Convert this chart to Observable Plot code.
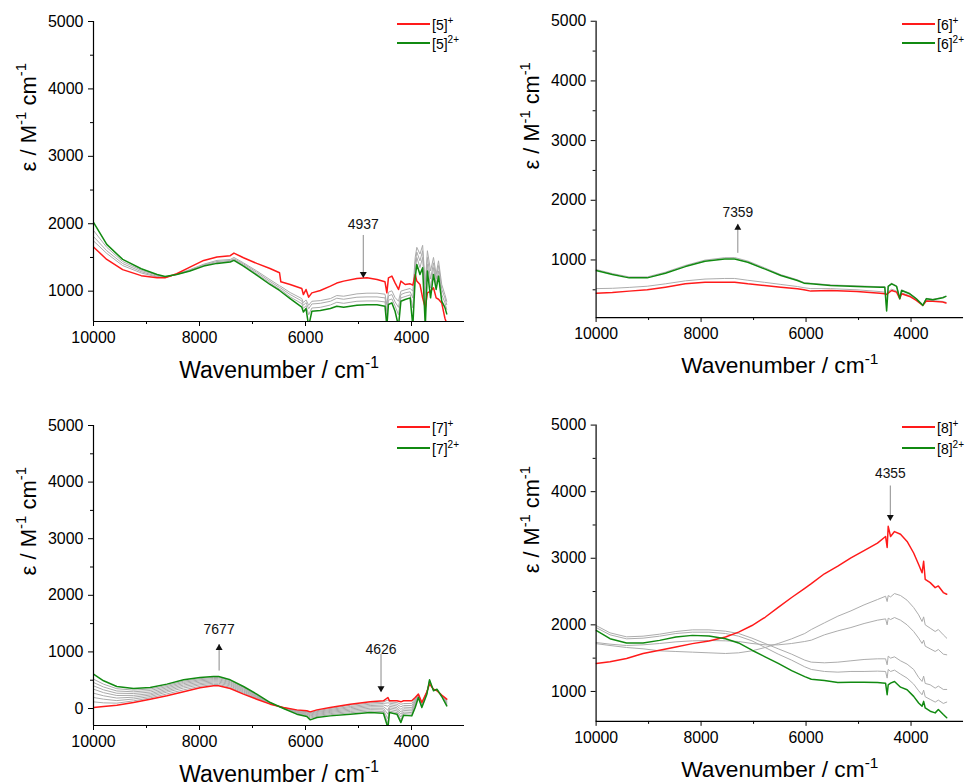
<!DOCTYPE html>
<html><head><meta charset="utf-8">
<script src="https://cdn.jsdelivr.net/npm/d3@7"></script>
<script src="https://cdn.jsdelivr.net/npm/@observablehq/plot@0.6"></script>
<style>
body{margin:0;background:#fff;font-family:Arial,"Liberation Sans",sans-serif;}
#wrap{position:relative;width:966px;height:784px;overflow:hidden;background:#fff;}
.panel{position:absolute;}
.legend{position:absolute;font-size:14px;color:#000;}
.legend .row{position:relative;white-space:nowrap;}
.legend .sw{position:absolute;left:0;width:33px;height:2px;}
.legend .lab{position:absolute;left:35px;line-height:14px;}
.legend sup{font-size:10px;vertical-align:6px;line-height:0;}
</style></head><body><div id="wrap"></div>
<script>
// ---------- Panel [5] ----------
const wn5 = [10000,9750,9450,9100,8800,8650,8430,8180,7920,7670,7420,7350,7170,6920,6670,6490,6465,6290,6070,6040,5990,5940,5880,5720,5530,5410,5280,5030,4840,4650,4500,4465,4435,4370,4310,4245,4200,4120,4025,3975,3930,3900,3840,3790,3740,3700,3640,3585,3535,3490,3430,3370,3335];
const red5 = [1655,1470,1320,1230,1198,1198,1258,1357,1456,1506,1526,1565,1496,1412,1337,1273,1139,1099,1040,950,1025,911,975,1010,1074,1120,1149,1188,1198,1174,1139,975,1198,1223,1124,1025,1149,1099,1109,1090,1248,1150,1099,900,752,975,1000,1050,901,880,826,600,520];
const green5 = [2020,1694,1471,1332,1248,1218,1248,1298,1372,1412,1432,1456,1372,1238,1099,1010,995,890,762,692,742,480,702,712,742,777,762,792,800,800,777,480,802,826,702,480,851,876,901,480,1200,1397,1248,1347,480,1298,901,1248,1025,1223,851,760,663];
const gray5a = [1745,1560,1380,1270,1210,1200,1252,1320,1400,1456,1470,1500,1420,1300,1170,1080,1070,980,890,830,870,790,850,860,890,935,925,960,970,970,955,800,985,1005,905,850,1000,1020,1040,1000,1500,1650,1550,1680,1100,1600,1300,1500,1250,1450,1100,950,850];
const gray5b = [1810,1600,1410,1290,1220,1205,1248,1310,1390,1440,1455,1480,1405,1280,1145,1055,1045,950,855,790,830,740,810,820,850,895,880,910,915,915,900,700,930,950,840,760,950,975,990,900,1420,1580,1450,1600,950,1500,1180,1420,1180,1380,1030,900,800];
const gray5c = [1900,1650,1440,1310,1235,1210,1246,1303,1380,1425,1442,1468,1388,1258,1120,1030,1020,915,815,745,785,650,750,760,795,835,820,850,855,855,840,600,865,885,780,650,900,920,945,750,1300,1500,1350,1500,800,1400,1050,1350,1100,1300,950,830,730];
const notes5 = [{label:"4937", x:4910, text:1985, from:1826, to:1203}];

// ---------- Panel [6] ----------
const wn6 = [10000,9690,9370,9025,8680,8300,7925,7550,7360,7110,6790,6480,6165,6040,5910,5535,5030,4590,4500,4465,4435,4370,4275,4215,4180,4025,3900,3775,3710,3585,3395,3335];
const red6 = [444,456,478,500,544,600,628,628,628,600,572,544,517,500,478,489,472,444,433,422,444,489,461,350,433,389,322,239,311,306,294,278];
const green6 = [822,756,700,700,778,889,978,1017,1017,961,850,739,656,611,600,572,556,544,544,144,556,600,556,350,489,433,350,239,350,333,367,389];
const gray6a = [520,525,540,560,600,650,680,690,690,660,625,590,555,535,520,520,500,470,460,440,470,510,480,370,450,400,335,250,325,320,305,290];
const gray6b = [840,772,716,716,795,908,998,1038,1040,982,868,754,668,622,610,582,566,552,552,200,566,610,566,370,500,442,358,250,358,340,374,395];
const notes6 = [{label:"7359", x:7300, text:1789, from:1111, to:1596}];

// ---------- Panel [7] ----------
const wn7 = [10000,9810,9560,9245,8930,8615,8300,7990,7735,7640,7420,7170,6920,6665,6415,6165,5975,5910,5785,5535,5155,4780,4530,4445,4415,4275,4200,4150,3995,3930,3870,3805,3710,3660,3585,3520,3430,3335];
const red7 = [18,35,59,106,165,224,295,366,401,401,354,254,165,77,18,-24,-41,-59,-24,18,77,118,136,195,136,136,118,136,136,195,254,106,295,431,342,313,236,165];
const green7 = [608,490,389,354,372,431,507,549,566,566,507,389,254,106,0,-100,-142,-200,-159,-130,-100,-71,-83,-340,-71,-100,-248,-118,-130,18,195,18,254,507,313,342,212,47];
const gray7a = [519,430,350,325,345,410,483,528,548,547,490,372,244,102,2,-90,-125,-170,-140,-110,-75,-45,-55,-260,-45,-72,-200,-90,-100,40,205,30,262,500,318,338,215,65];
const gray7b = [460,380,310,295,318,388,462,508,530,528,472,358,233,98,5,-80,-112,-150,-122,-90,-52,-20,-25,-180,-15,-42,-150,-62,-72,62,212,42,268,490,322,334,218,80];
const gray7c = [401,330,270,265,290,365,440,488,510,508,455,342,222,95,7,-70,-98,-130,-105,-70,-30,5,5,-100,12,-12,-100,-32,-42,85,220,55,274,482,326,330,221,95];
const gray7d = [342,280,230,232,262,340,415,465,490,488,436,325,211,91,9,-60,-85,-115,-88,-52,-8,30,32,-30,40,15,-60,-5,-12,108,228,65,280,470,330,326,224,110];
const gray7e = [271,225,185,200,238,315,390,440,470,468,418,308,200,88,11,-50,-72,-100,-70,-35,15,52,62,40,68,45,-15,25,18,130,235,78,285,460,334,322,228,125];
const gray7f = [195,165,140,168,212,290,362,418,448,446,398,290,188,84,14,-40,-60,-85,-55,-18,35,76,90,100,95,75,30,55,52,152,242,88,290,450,337,318,231,140];
const gray7g = [118,100,95,135,188,258,330,392,425,423,376,272,176,80,16,-32,-50,-72,-40,0,58,98,115,150,118,105,75,88,90,175,248,98,293,440,340,315,234,155];
const notes7 = [{label:"7677", x:7630, text:1396, from:661, to:1131},
                {label:"4626", x:4575, text:1043, from:955, to:295}];

// ---------- Panel [8] ----------
const wn8 = [10000,9735,9420,9105,8790,8480,8165,7850,7535,7285,7030,6780,6530,6275,6025,5900,5650,5395,5145,4895,4640,4485,4455,4435,4390,4315,4200,4075,3950,3855,3790,3760,3730,3635,3540,3480,3385,3320];
const red8 = [1421,1446,1495,1569,1619,1668,1718,1757,1817,1891,1990,2114,2262,2411,2549,2619,2767,2881,3005,3114,3228,3327,3163,3480,3327,3401,3361,3252,3079,2906,2782,2955,2683,2634,2559,2584,2485,2460];
const green8 = [1916,1792,1728,1728,1767,1817,1842,1832,1792,1728,1619,1520,1421,1312,1223,1183,1163,1134,1139,1139,1134,1124,950,1099,1124,1149,1064,1025,926,827,777,851,752,703,678,728,653,604];
const gray8a = [1718,1690,1660,1640,1610,1600,1590,1580,1570,1580,1610,1660,1720,1790,1870,1930,2030,2130,2210,2300,2380,2430,2350,2440,2420,2470,2440,2370,2260,2150,2050,2120,2000,1950,1900,1930,1850,1800];
const gray8b = [1735,1710,1690,1700,1720,1745,1760,1765,1760,1750,1720,1700,1700,1720,1750,1770,1850,1910,1960,2020,2070,2090,2000,2100,2080,2110,2070,2000,1900,1800,1720,1770,1680,1640,1600,1630,1560,1550];
const gray8c = [1990,1880,1820,1830,1860,1900,1925,1925,1905,1870,1800,1720,1640,1560,1470,1440,1430,1440,1460,1480,1490,1490,1400,1530,1500,1520,1460,1410,1330,1210,1150,1230,1120,1100,1050,1080,1030,1030];
const gray8d = [1960,1850,1790,1800,1830,1870,1890,1890,1870,1830,1760,1660,1560,1470,1370,1330,1300,1290,1300,1300,1305,1300,1200,1330,1300,1320,1260,1200,1110,1010,950,1020,920,880,840,870,820,840];
const notes8 = [{label:"4355", x:4395, text:4273, from:4085, to:3566}];

// ---------- tick values ----------
const xMajor = [10000, 8000, 6000, 4000];
const xMinor = [9000, 7000, 5000];
const yMajorA = [1000, 2000, 3000, 4000, 5000];
const yMinorA = [1500, 2500, 3500, 4500];
const yMajorB = [1000, 2000, 3000, 4000, 5000];
const yMinorB = [500, 1500, 2500, 3500, 4500];
const yMajorC = [0, 1000, 2000, 3000, 4000, 5000];
const yMinorC = [500, 1500, 2500, 3500, 4500];

const xLabel = "Wavenumber / cm^{-1}";
const yLabel = "\u03b5 / M^{-1} cm^{-1}";

const RED = "#ff1a1a", GREEN = "#118a11", GRAY = "#ababab";
const FONT = "Arial, 'Liberation Sans', sans-serif";

function supify(svg) {
  d3.select(svg).selectAll("text").each(function () {
    const t = this.textContent;
    if (!t.includes("^{")) return;
    const fs = parseFloat(this.closest("[font-size]")?.getAttribute("font-size") || 16);
    const parts = t.split(/\^\{([^}]*)\}/);
    const sel = d3.select(this);
    sel.text(null);
    let pending = 0;
    parts.forEach((p, i) => {
      if (!p) return;
      if (i % 2 === 1) {
        sel.append("tspan").attr("dy", -0.42 * fs).attr("font-size", 0.68 * fs).text(p);
        pending = 0.42 * fs;
      } else {
        const ts = sel.append("tspan").text(p);
        if (pending) { ts.attr("dy", pending); pending = 0; }
      }
    });
  });
}

function panel(cfg) {
  const {wn, red, green, grays, yDomain, yMajor, yMinor, left, top, width, mL, mR, mT, mB, notes, name, legTop, legLeft, legRow} = cfg;
  const rows = (ys) => wn.map((w, i) => ({w, v: ys[i]}));
  const marks = [];
  for (const g of grays) marks.push(Plot.line(rows(g), {x: "w", y: "v", stroke: GRAY, strokeWidth: 1, clip: true}));
  marks.push(Plot.line(rows(red), {x: "w", y: "v", stroke: RED, strokeWidth: 1.5, clip: true}));
  marks.push(Plot.line(rows(green), {x: "w", y: "v", stroke: GREEN, strokeWidth: 1.5, clip: true}));
  for (const n of notes) {
    marks.push(Plot.ruleX([n], {x: "x", y1: "from", y2: "to", stroke: "#8a8a8a", strokeWidth: 1}));
    const up = n.to > n.from;
    marks.push(Plot.dot([n], {x: "x", y: "to", symbol: "triangle", r: 2.6, fill: "#111", stroke: "none", rotate: up ? 0 : 180, dy: up ? 3.5 : -3.5}));
    marks.push(Plot.text([n], {x: "x", y: "text", text: "label", fontSize: 14, fill: "#111"}));
  }
  marks.push(Plot.ruleY([yDomain[0]], {stroke: "#000", strokeWidth: 1.2}));
  marks.push(Plot.ruleX([10000], {stroke: "#000", strokeWidth: 1.2}));
  marks.push(Plot.axisX({ticks: xMajor, tickSize: 5, tickPadding: 5, tickFormat: "d", fontSize: 16, label: null, fill: "#000"}));
  marks.push(Plot.axisX({ticks: xMinor, tickSize: 3, tickFormat: () => "", label: null}));
  marks.push(Plot.axisY({ticks: yMajor, tickSize: 5, tickPadding: 5, tickFormat: "d", fontSize: 16, label: null, fill: "#000"}));
  marks.push(Plot.axisY({ticks: yMinor, tickSize: 3, tickFormat: () => "", label: null}));
  marks.push(Plot.text([xLabel], {frameAnchor: "bottom", dy: 49, fontSize: 23, fill: "#000", lineAnchor: "middle"}));
  marks.push(Plot.text([yLabel], {frameAnchor: "left", dx: -65, rotate: -90, fontSize: 22, fill: "#000", lineAnchor: "middle"}));
  const svg = Plot.plot({
    width, height: 392,
    marginLeft: mL, marginRight: mR, marginTop: mT, marginBottom: mB,
    style: {fontFamily: FONT, fontSize: "16px", background: "transparent", color: "#000", overflow: "visible"},
    x: {domain: [10000, 3000], label: null},
    y: {domain: yDomain, label: null},
    marks
  });
  supify(svg);
  const div = document.createElement("div");
  div.className = "panel";
  div.style.left = left + "px";
  div.style.top = top + "px";
  div.appendChild(svg);
  const leg = document.createElement("div");
  leg.className = "legend";
  leg.style.left = legLeft + "px";
  leg.style.top = legTop + "px";
  const row = (col, sup, y) =>
    `<div class="row" style="top:${y}px"><span class="sw" style="top:-1px;background:${col}"></span>` +
    `<span class="lab" style="top:-6px">[${name}]<sup>${sup}</sup></span></div>`;
  leg.innerHTML = row(RED, "+", 0) + row(GREEN, "2+", legRow - 0);
  div.appendChild(leg);
  document.getElementById("wrap").appendChild(div);
}

panel({wn: wn5, red: red5, green: green5, grays: [gray5a, gray5b, gray5c], yDomain: [550, 5000], yMajor: yMajorA, yMinor: yMinorA,
  left: 0, top: 0, width: 483, mL: 93, mR: 19, mT: 21, mB: 71, notes: notes5, name: "5", legTop: 24, legLeft: 397, legRow: 19});
panel({wn: wn6, red: red6, green: green6, grays: [gray6a, gray6b], yDomain: [35, 5000], yMajor: yMajorB, yMinor: yMinorB,
  left: 483, top: 0, width: 489, mL: 114, mR: 3, mT: 21, mB: 71, notes: notes6, name: "6", legTop: 24, legLeft: 419, legRow: 19});
panel({wn: wn7, red: red7, green: green7, grays: [gray7a, gray7b, gray7c, gray7d, gray7e, gray7f, gray7g], yDomain: [-300, 5000], yMajor: yMajorC, yMinor: yMinorC,
  left: 0, top: 392, width: 483, mL: 93, mR: 19, mT: 33, mB: 59, notes: notes7, name: "7", legTop: 35, legLeft: 397, legRow: 21});
panel({wn: wn8, red: red8, green: green8, grays: [gray8a, gray8b, gray8c, gray8d], yDomain: [550, 5000], yMajor: yMajorA, yMinor: yMinorA,
  left: 483, top: 392, width: 489, mL: 114, mR: 3, mT: 33, mB: 59, notes: notes8, name: "8", legTop: 35, legLeft: 419, legRow: 21});
</script>
</body></html>
